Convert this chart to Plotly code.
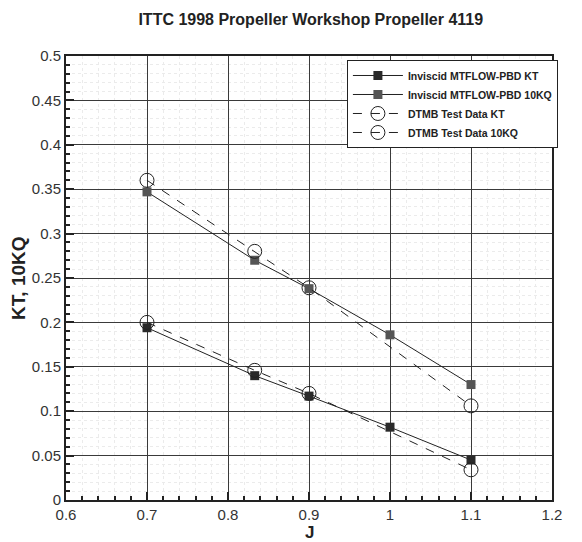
import plotly.graph_objects as go

J_calc = [0.7, 0.833, 0.9, 1.0, 1.1]
KT_calc = [0.194, 0.140, 0.117, 0.082, 0.045]
KQ10_calc = [0.347, 0.270, 0.238, 0.186, 0.130]

J_exp = [0.7, 0.833, 0.9, 1.1]
KT_exp = [0.200, 0.146, 0.120, 0.034]
KQ10_exp = [0.360, 0.280, 0.239, 0.106]

fig = go.Figure()
fig.add_trace(go.Scatter(x=J_calc, y=KT_calc, mode="lines+markers", name="Inviscid MTFLOW-PBD KT",
                         line=dict(color="#222222", width=1),
                         marker=dict(symbol="square", size=9, color="#2a2a2a")))
fig.add_trace(go.Scatter(x=J_calc, y=KQ10_calc, mode="lines+markers", name="Inviscid MTFLOW-PBD 10KQ",
                         line=dict(color="#222222", width=1),
                         marker=dict(symbol="square", size=9, color="#555555")))
fig.add_trace(go.Scatter(x=J_exp, y=KT_exp, mode="lines+markers", name="DTMB Test Data KT",
                         line=dict(color="#222222", width=1, dash="dash"),
                         marker=dict(symbol="circle-open", size=14, color="#222222", line=dict(width=1))))
fig.add_trace(go.Scatter(x=J_exp, y=KQ10_exp, mode="lines+markers", name="DTMB Test Data 10KQ",
                         line=dict(color="#222222", width=1, dash="dash"),
                         marker=dict(symbol="circle-open", size=14, color="#222222", line=dict(width=1))))

font = "Liberation Sans, Arial, sans-serif"
fig.update_layout(
    width=582, height=542,
    margin=dict(l=66, r=30, t=56, b=42, autoexpand=False),
    paper_bgcolor="white", plot_bgcolor="white",
    font=dict(family=font, color="#222222"),
    title=dict(text="<b>ITTC 1998 Propeller Workshop Propeller 4119</b>",
               x=0.534, xanchor="center", y=0.964, yanchor="middle",
               font=dict(size=16, color="#222222")),
    legend=dict(x=0.578, y=0.991, xanchor="left", yanchor="top",
                bgcolor="white", bordercolor="#222222", borderwidth=1,
                font=dict(size=10.5, color="#222222", family=font, weight="bold"),
                itemwidth=50, tracegroupgap=0),
    showlegend=True,
    annotations=[
        dict(text="<b>J</b>", x=0.5, y=-0.073, xref="paper", yref="paper",
             xanchor="center", yanchor="middle", showarrow=False,
             font=dict(size=17, color="#222222")),
        dict(text="<b>KT, 10KQ</b>", x=-0.099, y=0.5, xref="paper", yref="paper",
             xanchor="center", yanchor="middle", showarrow=False, textangle=-90,
             font=dict(size=19, color="#222222")),
    ],
)
fig.update_xaxes(range=[0.6, 1.2], dtick=0.1, tick0=0.6, showline=True, linecolor="#222222", linewidth=2,
                 mirror=True, ticks="inside", ticklen=8, tickwidth=2, tickcolor="#222222",
                 showgrid=True, gridcolor="#3a3a3a", gridwidth=1, zeroline=False, automargin=False,
                 tickfont=dict(size=15, color="#333333"),
                 minor=dict(dtick=0.02, ticks="inside", ticklen=4, tickcolor="#222222",
                            showgrid=True, gridcolor="#ebebeb", griddash="dot", gridwidth=1))
fig.update_yaxes(range=[0, 0.5], dtick=0.05, tick0=0, showline=True, linecolor="#222222", linewidth=2,
                 mirror=True, ticks="inside", ticklen=8, tickwidth=2, tickcolor="#222222",
                 showgrid=True, gridcolor="#3a3a3a", gridwidth=1, zeroline=False, automargin=False,
                 tickfont=dict(size=15, color="#333333"),
                 minor=dict(dtick=0.01, ticks="inside", ticklen=4, tickcolor="#222222",
                            showgrid=True, gridcolor="#ebebeb", griddash="dot", gridwidth=1))

fig.write_html("out.html", config={"displayModeBar": False},
               post_script="document.body.style.margin='0';document.body.style.overflow='hidden';")
